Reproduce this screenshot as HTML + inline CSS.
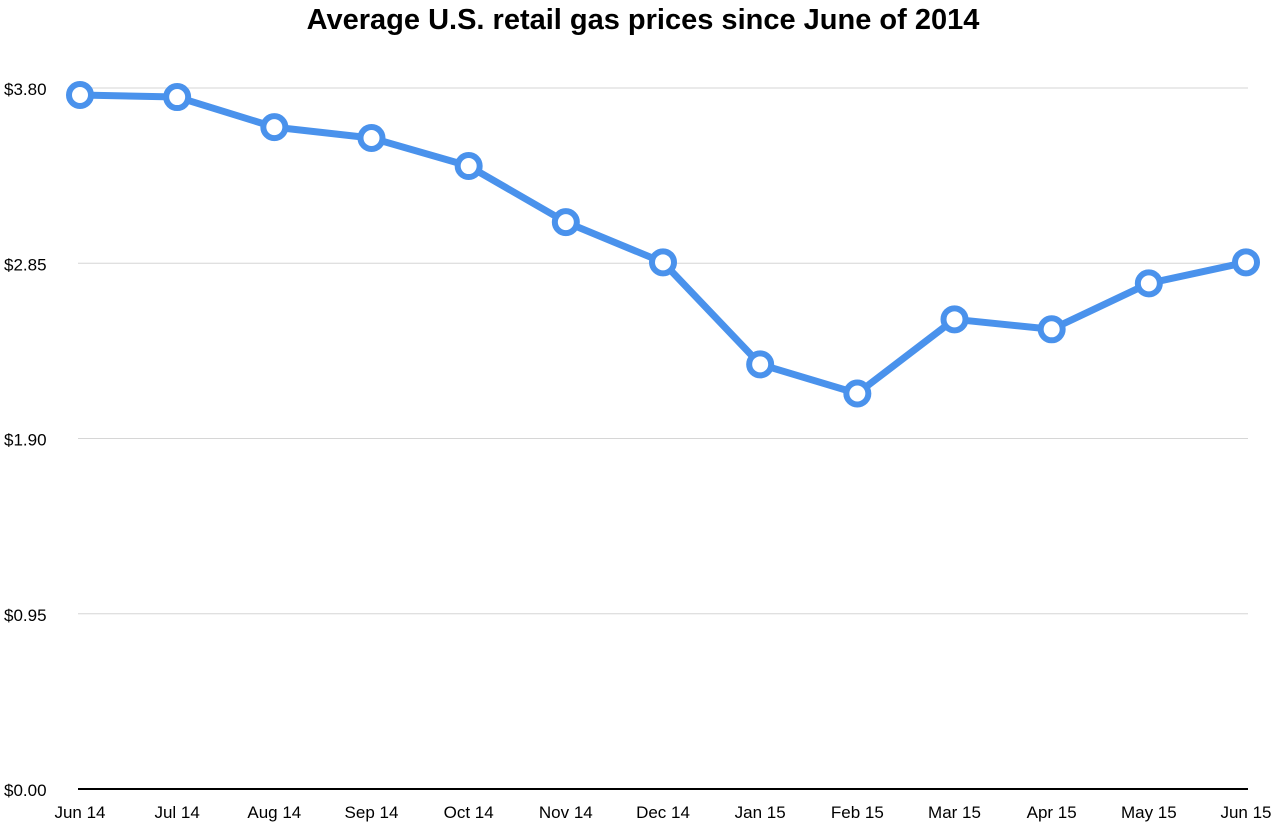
<!DOCTYPE html>
<html><head><meta charset="utf-8"><style>
html,body{margin:0;padding:0;background:#fff;}
svg{display:block;font-family:"Liberation Sans",Arial,sans-serif;}
</style></head><body>
<svg id="chart" width="1287" height="840" viewBox="0 0 1287 840" xmlns="http://www.w3.org/2000/svg">
<text x="643" y="29" text-anchor="middle" font-size="29" font-weight="bold" fill="#000">Average U.S. retail gas prices since June of 2014</text>
<g id="grid"></g>
<g id="yticks"></g>
<g id="xticks"></g>
<g id="series"></g>
</svg>
<script>
const categories = ["Jun 14","Jul 14","Aug 14","Sep 14","Oct 14","Nov 14","Dec 14","Jan 15","Feb 15","Mar 15","Apr 15","May 15","Jun 15"];
const prices = [3.762,3.751,3.588,3.529,3.377,3.073,2.855,2.302,2.144,2.546,2.492,2.741,2.855];
const yTicks = [0,0.95,1.90,2.85,3.80];
const yTickLabels = ["$0.00","$0.95","$1.90","$2.85","$3.80"];

const NS="http://www.w3.org/2000/svg";
const x0=80,x1=1246,y0=789,yTop=88,yMax=3.80;
function xScale(i){return x0+(x1-x0)*i/(categories.length-1);}
function yScale(v){return y0-(y0-yTop)*v/yMax;}
function mk(tag,attrs,parent){const e=document.createElementNS(NS,tag);for(const k in attrs)e.setAttribute(k,attrs[k]);parent.appendChild(e);return e;}

const grid=document.getElementById('grid'),yt=document.getElementById('yticks'),xt=document.getElementById('xticks'),ser=document.getElementById('series');
yTicks.forEach((v,i)=>{
  const y=yScale(v);
  const l=mk('line',{x1:78,x2:1248,y1:y,y2:y,stroke:v===0?'#000':'#d6d6d6','stroke-width':v===0?2:1},grid);
  
  
  const t=mk('text',{x:4,y:y+7,'font-size':17,fill:'#000'},yt);
  t.textContent=yTickLabels[i];
  
  
});
categories.forEach((c,i)=>{
  const t=mk('text',{x:xScale(i),y:818,'font-size':17,'text-anchor':'middle',fill:'#000'},xt);
  t.textContent=c;
  
  
});
const pts=prices.map((v,i)=>xScale(i)+','+yScale(v)).join(' ');
const pl=mk('polyline',{points:pts,fill:'none',stroke:'#4a92ec','stroke-width':7,'stroke-linejoin':'round'},ser);


prices.forEach((v,i)=>{
  const c=mk('circle',{cx:xScale(i),cy:yScale(v),r:11,fill:'#fff',stroke:'#4a92ec','stroke-width':6},ser);
  
  
});
</script>
</body></html>
